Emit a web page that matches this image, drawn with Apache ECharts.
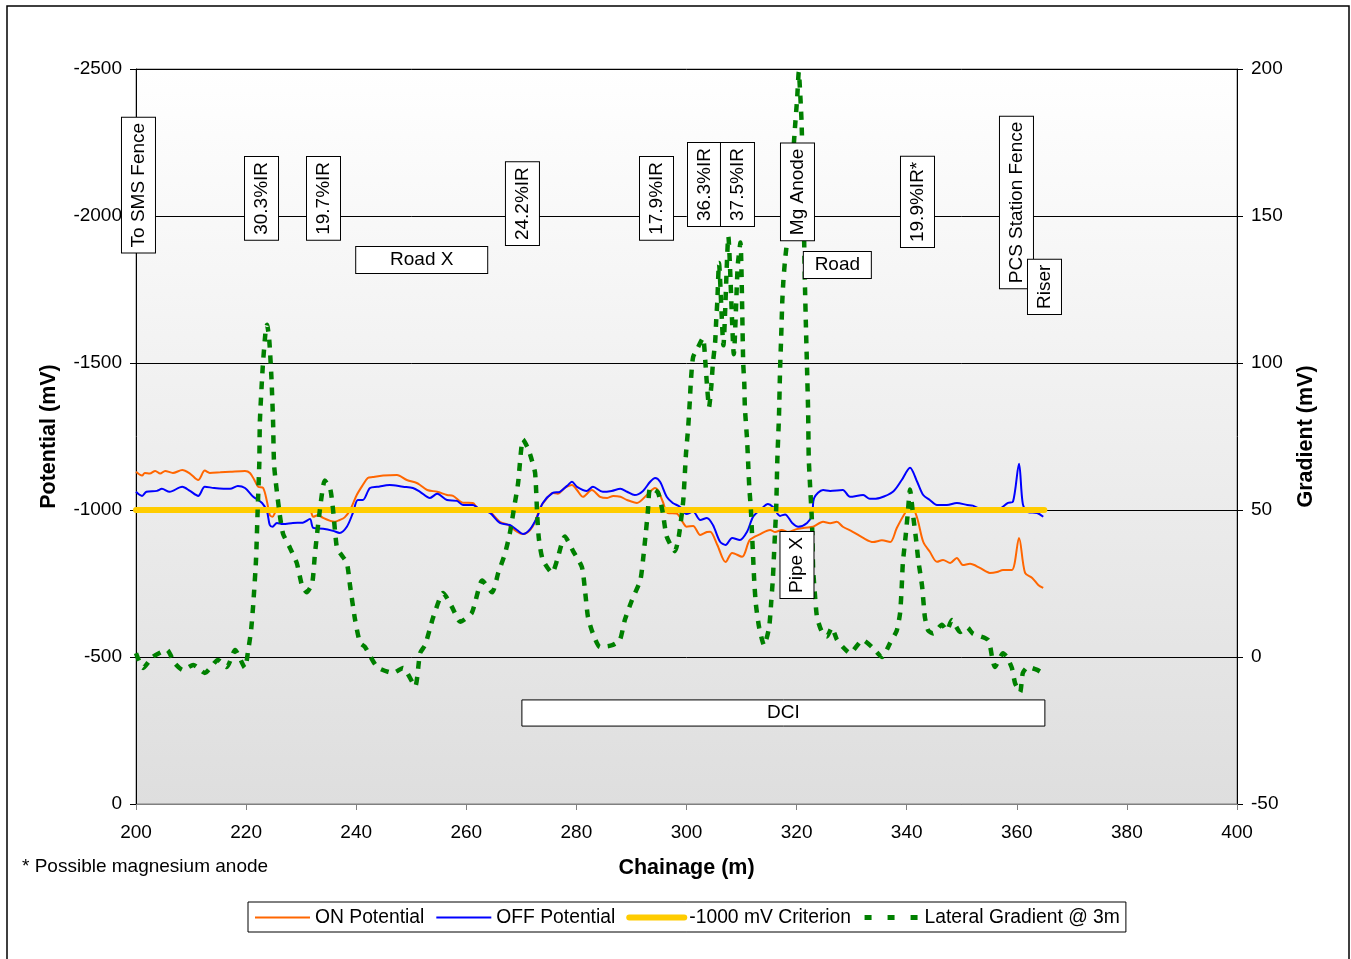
<!DOCTYPE html>
<html><head><meta charset="utf-8">
<script src="https://cdn.jsdelivr.net/npm/echarts@6/dist/echarts.min.js"></script>
<style>html,body{margin:0;padding:0;background:#fff}#c{width:1351px;height:959px}</style>
</head><body><div id="c"></div>
<script>
// ---------- DATA ----------
const xTicks = [200, 220, 240, 260, 280, 300, 320, 340, 360, 380, 400];
const leftTicks = [-2500, -2000, -1500, -1000, -500, 0];
const rightTicks = [200, 150, 100, 50, 0, -50];

const onX = [200,201.1,201.6,202.5,203.5,204.4,205.3,206.7,208.4,209.8,211.3,212.5,213.4,215.3,217.1,219.8,220.7,221.6,222.2,223.1,223.8,224.3,224.8,225.6,226.7,228.5,230.3,231.6,232.2,233.1,234,235.3,236.1,237,237.9,238.9,240.1,241.2,242.1,243,244.9,247.4,249.2,251,251.6,252.9,254.7,256.5,257.6,259.4,261.2,262.1,263.8,264.9,266.1,267.6,269.2,270.3,271.6,272.5,273.4,274.7,275.7,276.6,277.9,279.2,280.1,281.2,282.8,284.3,285.6,286.7,288,289.2,291,292.8,294.3,294.8,295.7,296.6,298.2,299.4,300,301.2,302.5,303.7,304.3,305.6,307.1,308.3,310.1,311.5,313.4,315.2,316.1,317.3,318.4,320,321.5,323,324.8,326.1,327.3,328.4,330.2,332.1,333.9,335.5,337,338.2,339.7,340.8,341.9,343,344.2,345.5,346.6,347.9,349.1,350.2,351.5,353.3,355.1,356.4,357.5,359.1,360.4,361.5,362.8,363.9,364.8];
const onY = [-1130,-1117,-1126,-1124,-1133,-1124,-1133,-1126,-1136,-1124,-1102,-1134,-1126,-1128,-1130,-1133,-1126,-1099,-1079,-1075,-1028,-983,-977,-999,-999,-998,-999,-999,-977,-983,-973,-963,-960,-966,-975,-1000,-1051,-1085,-1109,-1112,-1117,-1119,-1102,-1092,-1085,-1068,-1062,-1051,-1048,-1025,-1024,-1007,-1007,-983,-960,-949,-926,-918,-932,-960,-1007,-1041,-1058,-1055,-1075,-1085,-1068,-1045,-1068,-1045,-1041,-1048,-1045,-1034,-1024,-1051,-1075,-1068,-1028,-990,-988,-956,-943,-946,-915,-925,-926,-881,-823,-854,-841,-898,-918,-932,-925,-932,-925,-935,-940,-943,-960,-955,-960,-943,-926,-905,-891,-897,-891,-939,-990,-1017,-973,-892,-858,-824,-830,-820,-837,-813,-817,-803,-786,-789,-796,-796,-905,-786,-769,-745,-735];

const offX = [200,201.1,201.9,203.8,204.7,206.1,208.4,209.8,211.3,212.5,214.2,217.1,218.5,219.8,221.3,222.9,223.8,224.3,224.8,225.6,226.7,228.5,230.3,231.6,232.2,234,235.8,237,238.3,239.4,240.3,241.2,242.5,243.8,246.1,248.5,250.3,251.6,253.4,254.7,256.5,258.3,259.4,261.2,262.1,264.3,266.1,267.9,269.2,270.3,271.6,272.8,273.9,275.7,277,278.3,279.2,280.1,281.9,283,284.8,286.4,288,289.2,290.6,292.1,293.4,294.3,295.2,296.4,297.5,298.8,300,301.2,302.5,303.7,304.8,306.1,307.1,308.3,309.7,311,312.1,313.4,314.8,315.7,317,317.9,319.2,320.3,321.9,322.8,323.2,324.8,326.1,328.4,329.7,332.1,333.3,335.1,337.5,339.1,340.6,341.9,343,344.2,345.5,347.3,349.1,351,352,354,356,357,358.4,359.3,360.4,361.1,362,363.7,364.8];
const offY = [-1062,-1048,-1062,-1065,-1072,-1062,-1079,-1065,-1048,-1079,-1075,-1072,-1082,-1075,-1045,-1024,-995,-949,-943,-956,-952,-956,-957,-969,-939,-936,-929,-922,-943,-990,-1034,-1034,-1075,-1079,-1085,-1079,-1075,-1062,-1041,-1055,-1034,-1031,-1017,-1017,-1007,-990,-956,-949,-932,-918,-935,-973,-1024,-1058,-1062,-1082,-1096,-1079,-1065,-1079,-1062,-1065,-1072,-1062,-1051,-1065,-1096,-1109,-1096,-1045,-1024,-1011,-986,-995,-966,-973,-949,-892,-881,-905,-898,-926,-977,-1000,-1020,-1010,-980,-985,-956,-943,-956,-983,-1041,-1068,-1065,-1068,-1045,-1051,-1038,-1041,-1062,-1102,-1144,-1096,-1051,-1034,-1017,-1017,-1024,-1017,-1015,-1000,-1000,-1005,-1024,-1028,-1157,-1020,-993,-990,-977];

const critX = [200, 365];
const critY = [-1000, -1000];

const gradX = [200,201.3,203,205.6,207,208.5,210.4,212.5,214.9,216.5,218,219.8,220.3,220.9,221.3,221.8,222.1,222.4,222.5,223,223.5,223.8,224.2,224.6,224.9,225.1,226,226.7,228,229.2,230.2,231,232,232.5,233.4,234.3,235.3,235.8,236.5,237.2,238.3,238.9,239.8,240.7,241.6,243.8,246.7,248.5,250.7,251.6,252.5,253.3,254,255.8,257.4,258.9,261,262.9,264.7,265.8,267,267.9,268.7,269.4,270.3,271.2,271.9,272.5,272.9,273.2,273.9,275.6,276.5,277.9,279.4,281,281.6,282.1,283,284.3,286.5,287.9,288.8,290.1,291.6,292.1,292.6,293,293.4,294.8,295.7,296.4,297.9,298.6,299.4,299.9,300.3,300.6,300.8,301.2,302.1,303,303.4,303.7,304.1,304.5,304.8,305.2,305.4,305.6,305.9,306.7,307.6,308.6,309.3,309.8,310.3,310.5,310.6,311,311.2,311.4,311.7,311.9,312.1,312.3,312.6,313.2,314.1,315,315.4,315.7,315.9,316.1,316.3,316.5,316.8,317,317.2,317.4,317.6,317.9,318.3,318.9,319.7,320.1,320.4,320.7,320.9,321.2,321.5,321.7,321.9,322.1,322.2,322.4,322.8,323,323.3,323.7,324.5,325.5,326.4,327.3,328.4,329.7,332,333.7,335.5,337,338.2,338.8,339.1,339.3,339.8,340.2,340.6,341.2,341.7,342.1,342.8,343.3,343.9,344.8,346.4,347.3,348.2,349.7,351,352,354.8,355.5,356,357.5,358.2,359.1,359.7,360.6,361.1,362,363.7,364.6];
const gradY = [1.3,-3.7,0,2.4,-2,-4.4,-2.7,-5.4,-1,-3.4,2.4,-3.7,1.3,9,18,33,50,66,80,98,110,113,108,95,80,65,50,42,37,32,24,22,25,35,50,60,57,50,37,35,32,24,12.6,4.8,3.4,-3.4,-5.4,-3.7,-10,1.3,4,9,13.6,21.8,17,12,15,26,22,28.6,35,42,51,59,74,71,67,62.6,47.6,40,33,28.6,33,41,36,30.6,22,13.6,8,3.4,4,5.8,12.6,19.4,26,33,42,50,57.5,56,49,41,36,41,53,69,78,87,94,102,105.4,108.5,101,93,85,92,100,107,114.6,121,134,106,143,103,133,141,100,93,85,74,66,58,50,42,34,26,18,10,4,10,19,27,35,43,51,67,82,98,109,121,128,135,142,158,180,190,199,190,182,160,128,112,98,83,68,60,45.5,30,22,13.6,9,7,10,6,3.4,1.3,5.8,3.4,0,4.8,9,15,24,32,41,49,57,47.6,40,33,24,13.6,9,8,11,9,12.6,8.5,10,8,5.8,0,-3.4,1.3,0,-3.7,-9,-12,-5.4,-3.4,-4.4,-5.4];

// vertical annotation boxes (chainage, potential)
const annoText = ['To SMS Fence','30.3%IR','19.7%IR','24.2%IR','17.9%IR','36.3%IR','37.5%IR','Mg Anode','19.9%IR*','PCS Station Fence','Riser','Pipe X'];
const annoX = [200.45,222.8,234.06,270.2,294.55,303.27,309.26,320.16,341.96,359.94,365.03,320.07];
const annoY = [-2105,-2060,-2060,-2042,-2060,-2107,-2107,-2082,-2048,-2046,-1759,-813];
// horizontal annotation boxes
const hAnnoText = ['Road X','Road'];
const hAnnoX = [251.9,327.4];
const hAnnoY = [-1850,-1833];
// DCI band
const dciText = 'DCI';
const dciX = [270.1, 365.1];
const dciY = [-354, -265];

const seriesNames = ['ON Potential','OFF Potential','-1000 mV Criterion','Lateral Gradient @ 3m'];

// ---------- CHART ----------
const FONT = "'Liberation Sans', Arial, sans-serif";
const pairs = (xs, ys) => xs.map((x, i) => [x, ys[i]]);
const chart = echarts.init(document.getElementById('c'), null, {renderer: 'canvas'});

const boxLabel = {
  show: true, position: 'inside', color: '#000', fontSize: 19, fontFamily: FONT, opacity: 1,
  backgroundColor: '#fff', borderColor: '#000', borderWidth: 1, lineHeight: 23,
  padding: [5, 5], formatter: '{b}'
};
const hWidths = [131, 67];

chart.setOption({
  animation: false,
  textStyle: {fontFamily: FONT},
  grid: {left: 136, right: 114, top: 69, bottom: 155, show: true, borderColor: '#808080', borderWidth: 1,
    backgroundColor: {type: 'linear', x: 0, y: 0, x2: 0, y2: 1, colorStops: [{offset: 0, color: '#ffffff'}, {offset: 1, color: '#dedede'}]}},
  xAxis: {
    type: 'value', min: xTicks[0], max: xTicks[xTicks.length - 1], interval: 20,
    name: 'Chainage (m)', nameLocation: 'middle', nameGap: 53,
    nameTextStyle: {fontSize: 21.5, fontWeight: 'bold', color: '#000', fontFamily: FONT},
    axisLine: {show: true, lineStyle: {color: '#808080', width: 1}},
    axisTick: {show: true, length: 6, lineStyle: {color: '#808080'}},
    axisLabel: {fontSize: 19, color: '#000', margin: 19, fontFamily: FONT},
    splitLine: {show: false}
  },
  yAxis: [{
    type: 'value', inverse: true, min: leftTicks[0], max: leftTicks[leftTicks.length - 1], interval: 500,
    name: 'Potential (mV)', nameLocation: 'middle', nameGap: 76, nameRotate: 90,
    nameTextStyle: {fontSize: 21.5, fontWeight: 'bold', color: '#000', fontFamily: FONT},
    axisLine: {show: true, lineStyle: {color: '#000', width: 1}},
    axisTick: {show: true, length: 6, lineStyle: {color: '#000'}},
    axisLabel: {fontSize: 19, color: '#000', margin: 14, fontFamily: FONT, formatter: v => String(v)},
    splitLine: {show: true, lineStyle: {color: '#000', width: 1}}
  }, {
    type: 'value', position: 'right', min: rightTicks[rightTicks.length - 1], max: rightTicks[0], interval: 50,
    name: 'Gradient (mV)', nameLocation: 'middle', nameGap: 58, nameRotate: 90,
    nameTextStyle: {fontSize: 21.5, fontWeight: 'bold', color: '#000', fontFamily: FONT},
    axisLine: {show: true, lineStyle: {color: '#000', width: 1}},
    axisTick: {show: true, length: 6, lineStyle: {color: '#000'}},
    axisLabel: {fontSize: 19, color: '#000', margin: 14, fontFamily: FONT, formatter: v => String(v)},
    splitLine: {show: false}
  }],
  legend: {
    data: [
      {name: seriesNames[0]},
      {name: seriesNames[1]},
      {name: seriesNames[2], lineStyle: {width: 6, cap: 'round'}},
      {name: seriesNames[3], lineStyle: {width: 5, type: [7, 16]}}
    ],
    left: 248, top: 902, orient: 'horizontal',
    itemWidth: 55, itemHeight: 14, itemGap: 11,
    itemStyle: {opacity: 0},
    padding: [6, 6, 5, 6], borderColor: '#000', borderWidth: 1, backgroundColor: '#fff',
    textStyle: {fontSize: 19.3, color: '#000', fontFamily: FONT}
  },
  graphic: [
    {type: 'rect', shape: {x: 7, y: 6, width: 1342, height: 1000}, style: {fill: 'none', stroke: '#000', lineWidth: 1.5}, silent: true, z: -1},
    {type: 'text', left: 22, top: 857, style: {text: '* Possible magnesium anode', fontSize: 19, fontFamily: FONT, fill: '#000'}}
  ],
  series: [
    {name: seriesNames[0], type: 'line', yAxisIndex: 0, data: pairs(onX, onY), showSymbol: false, symbol: 'none', smooth: 0.3,
      lineStyle: {color: '#FF6600', width: 2}, itemStyle: {color: '#FF6600'}, z: 2},
    {name: seriesNames[1], type: 'line', yAxisIndex: 0, data: pairs(offX, offY), showSymbol: false, symbol: 'none', smooth: 0.3,
      lineStyle: {color: '#0000FF', width: 2}, itemStyle: {color: '#0000FF'}, z: 2},
    {name: seriesNames[2], type: 'line', yAxisIndex: 0, data: pairs(critX, critY), showSymbol: false, symbol: 'none',
      lineStyle: {color: '#FFCC00', width: 6, cap: 'round'}, itemStyle: {color: '#FFCC00'}, z: 3},
    {name: seriesNames[3], type: 'line', yAxisIndex: 1, data: pairs(gradX, gradY), showSymbol: false, symbol: 'none', smooth: 0.2,
      lineStyle: {color: '#008000', width: 4.5, type: [8, 8]}, itemStyle: {color: '#008000'}, z: 4},
    {type: 'scatter', yAxisIndex: 0, symbolSize: 0, silent: true, z: 10, itemStyle: {opacity: 1},
      data: annoText.map((t, i) => ({name: t, value: [annoX[i], annoY[i]]})),
      label: Object.assign({}, boxLabel, {rotate: 90})},
    {type: 'scatter', yAxisIndex: 0, symbolSize: 0, silent: true, z: 10, itemStyle: {opacity: 1},
      data: hAnnoText.map((t, i) => ({name: t, value: [hAnnoX[i], hAnnoY[i]],
        label: {width: hWidths[i], align: 'center'}})),
      label: Object.assign({}, boxLabel, {padding: [2, 0], lineHeight: 22}),
      markArea: {silent: true,
        itemStyle: {color: '#fff', borderColor: '#000', borderWidth: 1, opacity: 1},
        label: {show: true, position: 'inside', color: '#000', fontSize: 19, fontFamily: FONT},
        data: [[{name: dciText, coord: [dciX[0], dciY[0]]}, {coord: [dciX[1], dciY[1]]}]]}}
  ]
});
</script>
</body></html>
